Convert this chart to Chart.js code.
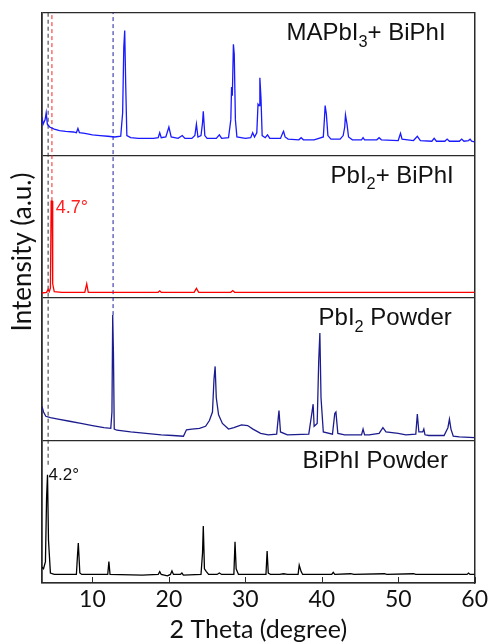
<!DOCTYPE html>
<html><head><meta charset="utf-8">
<script src="https://cdn.jsdelivr.net/npm/chart.js@4.4.0/dist/chart.umd.min.js"></script>
<style>html,body{margin:0;padding:0;background:#fff}canvas{display:block}</style>
</head><body>
<canvas id="c" width="491" height="644"></canvas>
<script>
// ---- data (2θ in degrees, intensity as fraction of its own panel) ----
const X_TICKS = [10, 20, 30, 40, 50, 60];
const X_TITLE = '2 Theta (degree)';
const Y_TITLE = 'Intensity (a.u.)';

// panel 4 (top)
const MAPBI3_BIPHI = [[3.4,0.27],[3.55,0.22],[3.8,0.25],[3.95,0.30],[4.1,0.22],[4.4,0.20],[5.0,0.185],[5.7,0.175],[6.5,0.17],[7.5,0.165],[7.9,0.16],[8.1,0.19],[8.3,0.16],[9,0.155],[10,0.145],[11,0.14],[12,0.135],[12.9,0.13],[13.7,0.135],[13.95,0.30],[14.1,0.76],[14.22,0.877],[14.35,0.5],[14.5,0.14],[15,0.125],[16,0.12],[17,0.12],[18,0.12],[18.6,0.125],[18.8,0.16],[19.0,0.125],[19.6,0.13],[20.0,0.20],[20.3,0.13],[21.2,0.12],[21.75,0.14],[22.1,0.12],[23.0,0.12],[23.4,0.14],[23.6,0.22],[23.8,0.13],[24.2,0.14],[24.4,0.23],[24.5,0.31],[24.7,0.14],[25.0,0.12],[26.2,0.12],[26.6,0.145],[26.9,0.12],[27.8,0.125],[28.1,0.25],[28.2,0.48],[28.3,0.42],[28.44,0.78],[28.55,0.71],[28.7,0.25],[28.9,0.13],[30.0,0.12],[30.7,0.125],[30.96,0.16],[31.2,0.13],[31.5,0.16],[31.66,0.36],[31.8,0.35],[31.9,0.545],[32.05,0.4],[32.2,0.14],[32.6,0.125],[32.9,0.145],[33.2,0.12],[34.6,0.12],[34.9,0.16],[35.0,0.17],[35.2,0.13],[35.6,0.115],[37.0,0.11],[37.3,0.125],[37.6,0.11],[39,0.11],[40.2,0.13],[40.35,0.26],[40.44,0.35],[40.6,0.29],[40.8,0.14],[41.2,0.115],[42.4,0.115],[42.8,0.14],[43.0,0.20],[43.1,0.285],[43.3,0.22],[43.5,0.13],[44,0.11],[45.2,0.11],[45.4,0.125],[45.6,0.11],[47.2,0.11],[47.5,0.125],[47.8,0.11],[50.0,0.105],[50.3,0.155],[50.5,0.115],[52.0,0.105],[52.5,0.135],[52.9,0.105],[54.4,0.1],[54.7,0.12],[55,0.1],[56.1,0.1],[56.4,0.115],[56.7,0.1],[58.0,0.1],[58.3,0.115],[58.6,0.1],[59.2,0.105],[59.4,0.115],[59.6,0.1],[60,0.095]];

// panel 3
const PBI2_BIPHI = [[3.4,0.035],[4.0,0.04],[4.2,0.06],[4.35,0.045],[4.5,0.07],[4.6,0.68],[4.72,0.68],[4.8,0.1],[5.0,0.045],[6,0.04],[9.0,0.04],[9.25,0.1],[9.45,0.04],[18.6,0.04],[18.8,0.05],[19.0,0.04],[23.3,0.04],[23.6,0.068],[23.9,0.04],[28.1,0.04],[28.35,0.052],[28.6,0.04],[60,0.04]];

// panel 2
const PBI2_POWDER = [[3.4,0.24],[3.6,0.2],[3.9,0.17],[4.5,0.16],[5.5,0.15],[7,0.135],[8.5,0.12],[10,0.105],[11.5,0.09],[12.4,0.085],[12.55,0.2],[12.65,0.88],[12.75,0.6],[12.85,0.08],[13.2,0.072],[15,0.06],[17,0.05],[19,0.04],[20.5,0.035],[21.9,0.03],[22.3,0.075],[23,0.08],[24,0.085],[24.8,0.1],[25.3,0.14],[25.7,0.2],[25.9,0.43],[26.05,0.52],[26.2,0.3],[26.5,0.18],[27,0.12],[27.8,0.08],[28.5,0.09],[29.5,0.11],[30.3,0.105],[31,0.08],[32,0.05],[33,0.04],[34.1,0.045],[34.4,0.21],[34.6,0.06],[35.5,0.04],[38.3,0.045],[38.75,0.21],[38.87,0.255],[39.0,0.1],[39.4,0.12],[39.6,0.56],[39.75,0.755],[39.9,0.3],[40.2,0.06],[41.4,0.045],[41.7,0.19],[41.85,0.2],[42.1,0.05],[43,0.04],[45.2,0.04],[45.4,0.08],[45.6,0.04],[46.2,0.04],[47.5,0.05],[48.0,0.09],[48.4,0.06],[50,0.05],[51,0.04],[52.3,0.045],[52.5,0.185],[52.7,0.06],[53.2,0.06],[53.35,0.08],[53.5,0.04],[54,0.035],[56,0.035],[56.5,0.09],[56.7,0.15],[56.9,0.08],[57.2,0.03],[58,0.025],[60,0.02]];

// panel 1 (bottom)
const BIPHI_POWDER = [[3.4,0.11],[3.6,0.1],[3.85,0.15],[4.0,0.6],[4.12,0.76],[4.25,0.3],[4.5,0.07],[5,0.06],[7.9,0.06],[8.05,0.2],[8.15,0.28],[8.35,0.07],[8.6,0.06],[12.0,0.06],[12.15,0.15],[12.3,0.06],[16.5,0.055],[18.6,0.06],[18.8,0.08],[19.0,0.06],[19.8,0.05],[20.2,0.06],[20.4,0.085],[20.6,0.06],[21.5,0.06],[21.7,0.07],[21.9,0.055],[24.2,0.06],[24.4,0.21],[24.5,0.40],[24.65,0.1],[24.9,0.08],[25.2,0.06],[26.3,0.06],[26.6,0.07],[26.9,0.06],[28.5,0.06],[28.65,0.29],[28.8,0.1],[29.1,0.06],[32.7,0.06],[32.85,0.225],[33.0,0.07],[33.3,0.06],[34.5,0.06],[35,0.065],[35.5,0.06],[36.9,0.06],[37.05,0.125],[37.3,0.08],[37.5,0.06],[41.3,0.06],[41.5,0.075],[41.7,0.06],[43.8,0.065],[44.2,0.06],[48.2,0.065],[48.5,0.06],[52.0,0.065],[52.3,0.06],[59.0,0.06],[59.2,0.07],[59.4,0.06],[60,0.06]];

// panel order bottom -> top
const SERIES = [BIPHI_POWDER, PBI2_POWDER, PBI2_BIPHI, MAPBI3_BIPHI];
const SERIES_NAMES = ['BiPhI Powder', 'PbI2 Powder', 'PbI2+ BiPhI', 'MAPbI3+ BiPhI'];
const SERIES_COLORS = ['#000000', '#1c1c8e', '#ff0000', '#1a1aff'];
// panel titles as [text, subscript?] parts
const PANEL_TITLES = [
  [['BiPhI Powder', false]],
  [['PbI', false], ['2', true], [' Powder', false]],
  [['PbI', false], ['2', true], ['+ BiPhI', false]],
  [['MAPbI', false], ['3', true], ['+ BiPhI', false]]
];
// reference peak markers: 2θ, panel the dashed line reaches down to, peak height there
const MARK_POS = [4.2, 4.7, 12.7];
const MARK_PANEL = [0, 2, 1];
const MARK_REACH = [0.83, 0.68, 0.88];
const MARK_COLORS = ['#333333', '#ff2020', '#1c1c9e'];
const PEAK_LABELS = ['4.2°', '4.7°'];

// ---- build ----
const datasets = [];
SERIES.forEach((s, i) => {
  datasets.push({
    label: SERIES_NAMES[i],
    data: s.map(p => ({x: p[0], y: p[1] + i})),
    borderColor: SERIES_COLORS[i],
    borderWidth: 1.3,
    pointRadius: 0,
    tension: 0,
    fill: false
  });
});
MARK_POS.forEach((v, i) => {
  datasets.push({
    label: 'marker ' + v,
    data: [{x: v, y: MARK_PANEL[i] + MARK_REACH[i]}, {x: v, y: SERIES.length}],
    borderColor: MARK_COLORS[i],
    borderWidth: 1,
    borderDash: [4, 3],
    pointRadius: 0,
    fill: false
  });
});

const FRAME = '#2a2a2a';
const SANS = '"Liberation Sans", Arial, sans-serif';

function richWidth(ctx, parts, size, family) {
  let w = 0;
  for (const [t, sub] of parts) {
    ctx.font = (sub ? size * 0.68 : size) + 'px ' + family;
    w += ctx.measureText(t).width;
  }
  return w;
}
function drawRich(ctx, parts, x, y, size, color, family, alignRight) {
  ctx.save();
  ctx.fillStyle = color;
  ctx.textAlign = 'left';
  ctx.textBaseline = 'alphabetic';
  let cx = alignRight ? x - richWidth(ctx, parts, size, family) : x;
  for (const [t, sub] of parts) {
    const fs = sub ? size * 0.68 : size;
    ctx.font = fs + 'px ' + family;
    ctx.fillText(t, cx, sub ? y + size * 0.28 : y);
    cx += ctx.measureText(t).width;
  }
  ctx.restore();
}

const textPlugin = {
  id: 'texts',
  afterDatasetsDraw(chart) {
    const ctx = chart.ctx;
    const xs = chart.scales.x, ys = chart.scales.y;
    // inward tick marks on the bottom axis
    ctx.save();
    ctx.strokeStyle = FRAME;
    ctx.lineWidth = 1;
    X_TICKS.forEach(v => {
      const px = Math.round(xs.getPixelForValue(v)) + 0.5;
      ctx.beginPath();
      ctx.moveTo(px, chart.chartArea.bottom);
      ctx.lineTo(px, chart.chartArea.bottom - 6);
      ctx.stroke();
    });
    ctx.restore();
    const titleRight = [56.5, 57.0, 57.26, 56.2];
    PANEL_TITLES.forEach((parts, i) => {
      drawRich(ctx, parts, xs.getPixelForValue(titleRight[i]), ys.getPixelForValue(i + 0.81), 24, '#111', SANS, true);
    });
    drawRich(ctx, [[PEAK_LABELS[0], false]], xs.getPixelForValue(4.25), ys.getPixelForValue(0 + 0.725), 17, '#111', SANS, false);
    drawRich(ctx, [[PEAK_LABELS[1], false]], xs.getPixelForValue(5.2), ys.getPixelForValue(2 + 0.6), 18, '#ff2020', SANS, false);
    // y axis title
    ctx.save();
    ctx.translate(23, 252);
    ctx.rotate(-Math.PI / 2);
    ctx.font = '26px Lato, sans-serif';
    ctx.fillStyle = '#111';
    ctx.textAlign = 'center';
    ctx.textBaseline = 'middle';
    ctx.fillText(Y_TITLE, 0, 0);
    ctx.restore();
  }
};

new Chart(document.getElementById('c'), {
  type: 'line',
  data: {datasets},
  options: {
    responsive: false,
    animation: false,
    devicePixelRatio: 1,
    layout: {padding: {top: 13, left: 0, right: 0, bottom: 0}},
    plugins: {legend: {display: false}, tooltip: {enabled: false}},
    scales: {
      x: {
        type: 'linear',
        position: 'bottom',
        min: 3.4,
        max: 60,
        afterBuildTicks: s => { s.ticks = X_TICKS.map(v => ({value: v})); },
        afterFit: s => { s.height = 61; },
        grid: {drawOnChartArea: false, drawTicks: false},
        border: {display: true, color: FRAME, width: 1.5},
        ticks: {padding: 3, color: '#111', font: {family: 'Lato, sans-serif', size: 23}, maxRotation: 0},
        title: {display: true, text: X_TITLE, color: '#111', font: {family: 'Lato, sans-serif', size: 25}, padding: {top: 0, bottom: -1}}
      },
      y: {
        type: 'linear',
        position: 'left',
        min: 0,
        max: SERIES.length,
        afterBuildTicks: s => { s.ticks = SERIES.map((_, i) => ({value: i})).concat([{value: SERIES.length}]); },
        afterFit: s => { s.width = 42; },
        ticks: {display: false},
        grid: {drawOnChartArea: true, drawTicks: false, color: FRAME, lineWidth: 1.3},
        border: {display: true, color: FRAME, width: 1.8}
      },
      yR: {
        type: 'linear',
        position: 'right',
        min: 0,
        max: SERIES.length,
        afterFit: s => { s.width = 15; },
        ticks: {display: false},
        grid: {display: false, drawTicks: false},
        border: {display: true, color: FRAME, width: 1.5}
      }
    }
  },
  plugins: [textPlugin]
});
</script>
</body></html>
